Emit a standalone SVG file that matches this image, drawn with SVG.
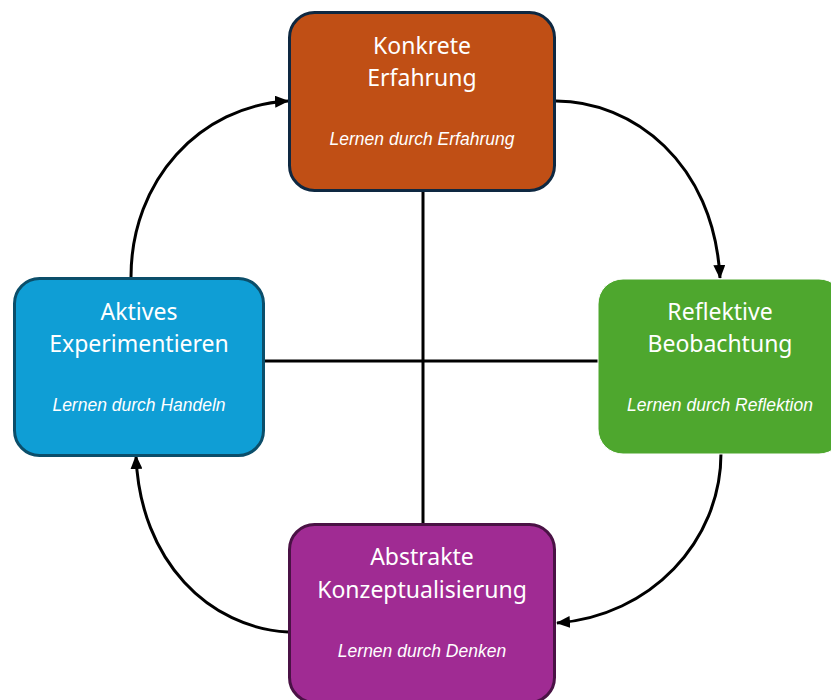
<svg xmlns="http://www.w3.org/2000/svg" width="831" height="700" viewBox="0 0 831 700">
<defs>
<marker id="ah" viewBox="0 0 14 12" refX="13" refY="6" markerWidth="14" markerHeight="12" markerUnits="userSpaceOnUse" orient="auto">
<path d="M0,0 L14,6 L0,12 Z" fill="#000"/>
</marker>
<style>
.t{font-family:"Noto Sans","Liberation Sans",Arial,sans-serif;font-size:23px;fill:#fff;text-anchor:middle}
.s{font-family:"Liberation Sans",Arial,sans-serif;font-size:17.5px;font-style:italic;fill:#fff;text-anchor:middle}
.ln{fill:none;stroke:#000;stroke-width:3}
</style>
</defs>
<rect width="831" height="700" fill="#fff"/>
<g id="connectors">
<line class="ln" x1="423" y1="192" x2="423" y2="523"/>
<line class="ln" x1="265" y1="361" x2="598" y2="361"/>
<path class="ln" d="M556,101 C632,101 714,162 720,278" marker-end="url(#ah)"/>
<path class="ln" d="M721,453 C721,542 650,616 557,623" marker-end="url(#ah)"/>
<path class="ln" d="M288,632 C210,628 140,562 136,456" marker-end="url(#ah)"/>
<path class="ln" d="M131,277 C131,180 200,106 288,101" marker-end="url(#ah)"/>
</g>
<g id="konkrete">
<rect x="289.5" y="12.5" width="265" height="178" rx="25" fill="#C04F15" stroke="#0E2841" stroke-width="3"/>
<text class="t" x="422" y="54">Konkrete</text>
<text class="t" x="422" y="86">Erfahrung</text>
<text class="s" x="422" y="145">Lernen durch Erfahrung</text>
</g>
<g id="reflektive">
<rect x="598" y="279" width="246" height="175" rx="25" fill="#4EA72E" stroke="#fff" stroke-width="1"/>
<text class="t" x="720" y="320">Reflektive</text>
<text class="t" x="720" y="352">Beobachtung</text>
<text class="s" x="720" y="411">Lernen durch Reflektion</text>
</g>
<g id="aktives">
<rect x="14.5" y="278.5" width="249" height="177" rx="25" fill="#0F9ED5" stroke="#0B4E6A" stroke-width="3"/>
<text class="t" x="139" y="320">Aktives</text>
<text class="t" x="139" y="352">Experimentieren</text>
<text class="s" x="139" y="411">Lernen durch Handeln</text>
</g>
<g id="abstrakte">
<rect x="289.5" y="524.5" width="265" height="178" rx="25" fill="#A02B93" stroke="#4A1245" stroke-width="3"/>
<text class="t" x="422" y="565">Abstrakte</text>
<text class="t" x="422" y="598">Konzeptualisierung</text>
<text class="s" x="422" y="657">Lernen durch Denken</text>
</g>
</svg>
